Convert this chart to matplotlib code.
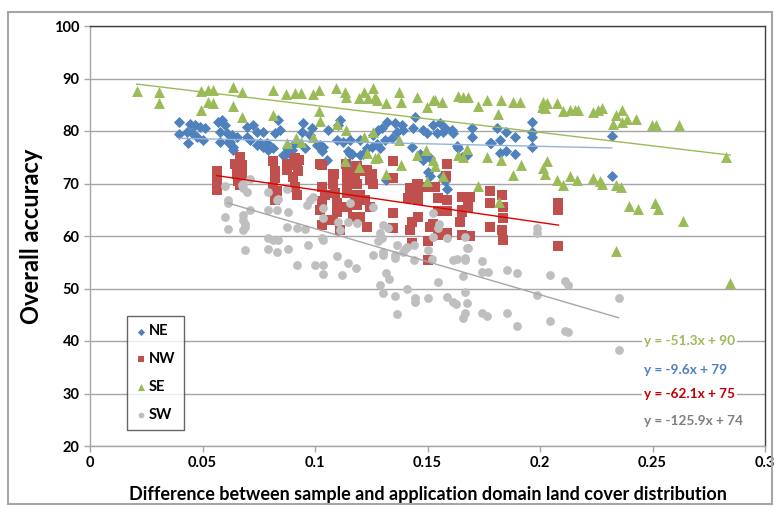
import matplotlib
matplotlib.use("Agg")
from matplotlib import pyplot as plt
from matplotlib.patches import Rectangle
import numpy as np

# NE - blue diamonds
ne_x = [0.0396, 0.0397, 0.0444, 0.0467, 0.0489, 0.0511, 0.043, 0.0452, 0.0474, 0.0504, 0.0437, 0.057, 0.0585, 0.06,
        0.0578, 0.0607, 0.063, 0.0652, 0.0615, 0.0637, 0.0637, 0.0696, 0.0726, 0.0741, 0.077, 0.0696, 0.0711, 0.0741,
        0.077, 0.0793, 0.0837, 0.0844, 0.0822, 0.0785, 0.0815, 0.0867, 0.0896, 0.0911, 0.0948, 0.0941, 0.0985, 0.0978,
        0.0956, 0.1022, 0.103, 0.1052, 0.1059, 0.1111, 0.1104, 0.1099, 0.1156, 0.1148, 0.12, 0.123, 0.1259, 0.1281,
        0.1296, 0.1319, 0.1311, 0.1341, 0.1363, 0.1356, 0.1385, 0.1393, 0.1437, 0.1444, 0.1481, 0.1496, 0.1526, 0.143,
        0.1467, 0.1481, 0.1511, 0.1556, 0.1541, 0.157, 0.1578, 0.1607, 0.1615, 0.1699, 0.1699, 0.163, 0.1637, 0.1652,
        0.1674, 0.1782, 0.1822, 0.1807, 0.1849, 0.1889, 0.1822, 0.1849, 0.1889, 0.1966, 0.1966, 0.1966, 0.1966, 0.2319,
        0.2319, 0.1163, 0.1215, 0.1252, 0.1274, 0.1289, 0.1474, 0.1504, 0.1511, 0.1316, 0.1563, 0.1578, 0.1585, 0.1778,
        0.0578, 0.0622, 0.0756, 0.0778, 0.0874, 0.0889, 0.0859, 0.1007, 0.1037, 0.1126, 0.1156, 0.12, 0.1156, 0.1148]
ne_y = [81.8, 79.4, 81.4, 81.1, 80.8, 80.5, 79.9, 79.6, 78.9, 78.3, 77.7, 81.8, 82.1, 81.1,
        79.9, 79.6, 79.2, 78.9, 78.0, 77.0, 76.4, 80.8, 81.1, 79.9, 79.9, 78.9, 78.3, 77.3,
        77.0, 76.4, 82.1, 80.2, 79.6, 77.7, 76.7, 75.4, 76.4, 77.7, 81.5, 79.9, 80.5, 79.2,
        76.7, 77.3, 76.1, 74.5, 80.2, 82.1, 81.1, 78.3, 78.3, 76.1, 78.3, 76.7, 79.2, 80.2,
        80.5, 81.8, 78.3, 78.6, 79.9, 81.5, 81.1, 80.2, 80.5, 82.7, 80.2, 79.6, 81.1, 77.0,
        75.7, 74.4, 74.9, 81.5, 79.6, 79.9, 80.5, 80.2, 79.6, 80.5, 78.8, 77.1, 76.7, 75.1,
        75.4, 77.8, 78.2, 80.5, 79.9, 78.9, 75.9, 76.1, 75.7, 81.8, 79.9, 78.9, 76.9, 79.1,
        71.4, 75.7, 75.7, 77.0, 77.5, 76.7, 75.1, 72.1, 71.4, 70.7, 71.4, 70.4, 68.9, 77.7,
        78.0, 77.9, 77.7, 76.9, 76.7, 75.7, 75.4, 77.3, 77.0, 78.0, 75.7, 75.4, 73.5, 72.3]

# NW - red squares
nw_x = [0.0563, 0.0563, 0.0563, 0.0644, 0.0667, 0.0674, 0.0652, 0.0674, 0.0659, 0.0667, 0.0815, 0.0822, 0.0822,
        0.0815, 0.083, 0.0822, 0.0874, 0.0874, 0.0911, 0.0919, 0.0926, 0.0911, 0.0919, 0.0904, 0.093, 0.103, 0.103,
        0.1044, 0.103, 0.1022, 0.103, 0.1052, 0.1081, 0.1081, 0.1089, 0.1096, 0.1096, 0.1081, 0.1111, 0.1141, 0.1141,
        0.1141, 0.1141, 0.1178, 0.1178, 0.117, 0.1138, 0.1185, 0.1022, 0.1084, 0.1348, 0.1585, 0.1215, 0.1252, 0.1259,
        0.1185, 0.12, 0.1222, 0.1244, 0.12, 0.123, 0.1185, 0.1348, 0.1348, 0.1348, 0.1422, 0.1452, 0.1459, 0.1415,
        0.1459, 0.1459, 0.143, 0.1422, 0.1533, 0.1548, 0.1585, 0.1511, 0.1548, 0.1652, 0.1689, 0.1681, 0.1652, 0.1644,
        0.1778, 0.183, 0.1837, 0.1778, 0.1837, 0.1778, 0.183, 0.1837, 0.1526, 0.1585, 0.1504, 0.1504, 0.143, 0.1548,
        0.1585, 0.1652, 0.1652, 0.1689, 0.2082, 0.2082, 0.2082, 0.1582, 0.1244, 0.123, 0.1459, 0.1504]
nw_y = [72.3, 70.4, 68.8, 73.8, 75.1, 73.5, 71.9, 71.6, 70.4, 69.7, 74.2, 72.3, 71.0,
        69.4, 68.5, 66.9, 73.8, 72.6, 74.8, 73.5, 72.3, 69.4, 67.8, 71.3, 74.5, 73.5, 69.4,
        67.8, 66.6, 65.0, 62.1, 63.0, 71.9, 70.0, 68.1, 66.2, 64.6, 63.0, 61.1, 71.9, 70.0,
        68.1, 65.6, 71.9, 67.8, 63.7, 73.8, 73.3, 73.8, 71.9, 74.2, 73.8, 72.3, 71.9, 70.0,
        70.0, 67.8, 66.9, 65.6, 63.7, 61.8, 65.9, 71.0, 64.3, 61.5, 69.1, 70.0, 68.4, 67.2,
        66.9, 63.7, 62.7, 61.1, 69.4, 67.2, 66.9, 61.8, 60.2, 67.5, 67.5, 65.6, 64.6, 62.7,
        68.5, 67.8, 65.6, 66.2, 63.4, 61.8, 61.1, 59.2, 62.3, 60.6, 59.1, 55.4, 58.6, 64.7,
        64.7, 60.2, 65.0, 60.0, 66.2, 64.9, 58.1, 71.4, 70.7, 72.6, 70.0, 69.4]

# SE - green triangles
se_x = [0.0207, 0.0308, 0.0308, 0.0493, 0.0526, 0.0548, 0.0637, 0.0674, 0.0526, 0.0548, 0.0493, 0.0637, 0.0674,
        0.0812, 0.0871, 0.0911, 0.0938, 0.099, 0.1019, 0.1093, 0.1133, 0.1138, 0.1219, 0.1197, 0.1259, 0.1267, 0.1277,
        0.1237, 0.1316, 0.1375, 0.1381, 0.1452, 0.1496, 0.1526, 0.0812, 0.1019, 0.1022, 0.1096, 0.1138, 0.0874, 0.0916,
        0.0938, 0.099, 0.1219, 0.1259, 0.1375, 0.1493, 0.1452, 0.1232, 0.1267, 0.1281, 0.1133, 0.1197, 0.1381, 0.1316,
        0.1496, 0.1533, 0.1526, 0.1533, 0.1563, 0.1637, 0.1659, 0.1681, 0.1726, 0.1766, 0.1825, 0.1815, 0.1881, 0.1911,
        0.2015, 0.203, 0.2007, 0.2022, 0.2074, 0.2101, 0.2133, 0.2156, 0.2167, 0.2237, 0.2259, 0.2274, 0.1677, 0.1637,
        0.1659, 0.157, 0.1766, 0.1825, 0.1914, 0.1881, 0.2015, 0.203, 0.2022, 0.2074, 0.2133, 0.2163, 0.2104, 0.2237,
        0.2267, 0.1726, 0.2338, 0.2363, 0.2326, 0.2363, 0.2388, 0.2425, 0.2496, 0.2516, 0.2618, 0.2827, 0.2274, 0.2338,
        0.2359, 0.2395, 0.2434, 0.2511, 0.2524, 0.2634, 0.2336, 0.2845, 0.1818]
se_y = [87.6, 87.4, 85.3, 87.6, 87.9, 87.9, 88.3, 87.5, 85.6, 85.3, 84.0, 84.8, 82.7,
        87.8, 87.0, 87.2, 87.2, 87.0, 87.8, 88.1, 87.5, 86.5, 87.4, 86.2, 88.1, 86.5, 86.0,
        86.2, 85.3, 87.5, 85.6, 86.5, 84.6, 85.9, 83.0, 83.9, 82.0, 81.4, 80.1, 77.7, 78.6,
        78.0, 78.8, 78.9, 79.9, 78.3, 76.4, 75.4, 75.9, 74.8, 75.1, 74.2, 73.2, 73.5, 71.9,
        70.4, 73.3, 74.5, 85.9, 85.6, 86.7, 86.4, 86.4, 84.8, 86.0, 85.9, 83.2, 85.6, 85.6,
        85.6, 85.3, 84.6, 84.3, 85.3, 83.9, 84.0, 84.0, 84.0, 83.7, 84.0, 84.3, 76.5, 75.4,
        75.1, 71.4, 75.0, 74.5, 73.5, 71.6, 72.9, 74.2, 71.9, 70.7, 71.4, 70.7, 69.7, 71.0,
        70.5, 69.5, 83.0, 84.0, 81.4, 81.8, 82.2, 82.2, 81.1, 81.1, 81.1, 75.0, 70.0, 69.7,
        69.3, 65.8, 65.2, 66.3, 65.2, 62.8, 57.1, 51.0, 66.4]

# SW - grey circles
sw_x = [0.06, 0.0615, 0.0615, 0.06, 0.0615, 0.0681, 0.0681, 0.0696, 0.0711, 0.0681, 0.0689, 0.0681, 0.0711, 0.0793,
        0.0793, 0.083, 0.0837, 0.083, 0.0874, 0.0881, 0.0874, 0.0793, 0.0815, 0.0837, 0.0793, 0.083, 0.0881, 0.0689,
        0.0919, 0.0956, 0.097, 0.0963, 0.0978, 0.0993, 0.1037, 0.1037, 0.103, 0.1037, 0.1104, 0.1111, 0.1148, 0.1185,
        0.1148, 0.1096, 0.0919, 0.1, 0.1037, 0.0681, 0.0689, 0.1034, 0.1119, 0.1182, 0.1259, 0.1304, 0.1304, 0.1316,
        0.133, 0.1289, 0.1304, 0.1356, 0.1356, 0.1356, 0.1363, 0.1363, 0.14, 0.1407, 0.1407, 0.144, 0.144, 0.1444,
        0.1444, 0.1504, 0.1504, 0.1519, 0.1548, 0.1588, 0.1615, 0.1627, 0.1615, 0.163, 0.1667, 0.1667, 0.1659, 0.1667,
        0.1674, 0.1667, 0.1659, 0.1741, 0.1763, 0.1741, 0.1741, 0.177, 0.1852, 0.1852, 0.1896, 0.1896, 0.1985, 0.1985,
        0.1985, 0.2044, 0.2044, 0.1674, 0.1526, 0.1553, 0.1523, 0.1289, 0.1304, 0.1326, 0.1296, 0.1281, 0.1393, 0.2112,
        0.2123, 0.2112, 0.2123, 0.2349, 0.2349, 0.0674, 0.1156, 0.1259, 0.1548, 0.1585, 0.1667, 0.1681]
sw_y = [69.5, 66.9, 66.2, 63.7, 61.3, 70.0, 69.1, 68.4, 70.8, 63.0, 61.7, 61.1, 65.0, 68.3,
        65.0, 66.9, 67.0, 65.0, 68.9, 64.5, 61.7, 59.6, 59.2, 59.2, 57.5, 57.0, 57.5, 57.3,
        61.5, 61.3, 58.3, 65.9, 66.9, 67.5, 65.3, 63.4, 59.6, 59.2, 62.7, 61.1, 62.7, 62.4,
        54.8, 56.1, 54.5, 54.5, 54.5, 64.0, 62.3, 52.8, 52.6, 54.0, 56.4, 57.0, 56.4, 52.9,
        51.9, 50.7, 49.2, 56.4, 55.9, 48.6, 45.1, 58.3, 57.5, 58.0, 50.0, 58.3, 55.4, 48.1,
        47.5, 57.3, 48.1, 55.6, 51.3, 48.4, 47.5, 47.0, 55.4, 55.7, 55.4, 55.9, 52.4, 49.4,
        47.2, 45.4, 44.4, 45.3, 44.7, 55.3, 53.2, 53.2, 53.5, 45.3, 52.9, 42.9, 61.5, 60.5,
        48.8, 52.6, 43.9, 57.7, 59.9, 62.3, 64.4, 60.5, 62.1, 61.5, 59.6, 59.0, 57.0, 51.4,
        50.7, 41.9, 41.7, 48.1, 38.2, 69.7, 66.2, 65.6, 61.5, 59.6, 59.9, 57.7]

# trendlines as printed on the chart: slope, intercept, x range
names = ["NE", "NW", "SE", "SW"]
slopes = [-9.6, -62.1, -51.3, -125.9]
intercepts = [79, 75, 90, 74]
line_start = [0.0396, 0.0563, 0.0207, 0.061]
line_end = [0.2319, 0.2082, 0.2845, 0.2349]

marker_col = ["#4F81BD", "#C0504D", "#9BBB59", "#BFBFBF"]
line_col = ["#95B3D7", "#E00000", "#9BBB59", "#A6A6A6"]
eq_col = ["#4F81BD", "#C00000", "#9BBB59", "#7F7F7F"]

plt.rcParams["font.family"] = ["Lato", "DejaVu Sans"]
plt.rcParams["font.weight"] = "bold"

fig = plt.figure(figsize=(7.75, 5.08), dpi=100)
ax = fig.add_axes([90 / 775, 1 - 446 / 508, 675 / 775, 420 / 508])

series = [(ne_x, ne_y, "D", 32), (nw_x, nw_y, "s", 52), (se_x, se_y, "^", 62), (sw_x, sw_y, "o", 40)]
for i, (xs, ys, mk, sz) in enumerate(series):
    ax.scatter(xs, ys, marker=mk, s=sz, color=marker_col[i], linewidths=0, label=names[i], zorder=3)

# trendlines
for i in range(4):
    xx = np.array([line_start[i], line_end[i]])
    ax.plot(xx, slopes[i] * xx + intercepts[i], color=line_col[i], lw=1.0, zorder=4)

# equation labels, order top to bottom: SE, NE, NW, SW
eq_order = [2, 0, 1, 3]
eq_y = [40.0, 34.5, 29.9, 24.8]
for k, i in enumerate(eq_order):
    txt = "y = %.1fx + %d" % (slopes[i], intercepts[i])
    ax.text(0.2463, eq_y[k], txt, color=eq_col[i], fontsize=9.8, fontweight="bold", va="center", ha="left",
            zorder=5, bbox=dict(facecolor="white", edgecolor="none", pad=1.5))

ax.set_xlim(0, 0.3)
ax.set_ylim(20, 100)
ax.set_xticks([0, 0.05, 0.1, 0.15, 0.2, 0.25, 0.3])
ax.set_xticklabels(["0", "0.05", "0.1", "0.15", "0.2", "0.25", "0.3"])
ax.set_yticks(range(20, 101, 10))
ax.yaxis.grid(True, color="#A6A6A6", lw=1.0)
ax.set_axisbelow(True)
ax.tick_params(axis="both", labelsize=10.5, length=4, color="#A6A6A6", width=1)
for lab in ax.get_xticklabels() + ax.get_yticklabels():
    lab.set_fontweight("bold")

ax.spines["left"].set_color("#A6A6A6")
ax.spines["bottom"].set_color("#A6A6A6")
ax.spines["top"].set_color("#404040")
ax.spines["right"].set_color("#404040")
for s in ax.spines.values():
    s.set_linewidth(1.0)

ax.set_xlabel("Difference between sample and application domain land cover distribution",
              fontsize=13, fontweight="bold", labelpad=11)
ax.set_ylabel("Overall accuracy", fontsize=17, fontweight="bold", labelpad=8)

leg = ax.legend(loc="lower left", bbox_to_anchor=(0.055, 0.038), frameon=True, fancybox=False,
                fontsize=10.5, handletextpad=0.15, borderpad=0.55, labelspacing=0.95, markerscale=0.65,
                handlelength=0.8, borderaxespad=0)
leg.get_frame().set_edgecolor("#404040")
leg.get_frame().set_linewidth(1.0)
for t in leg.get_texts():
    t.set_fontweight("bold")

# outer chart border
fig.patches.append(Rectangle((8 / 775, 4 / 508), 764 / 775, 492 / 508, transform=fig.transFigure,
                             fill=False, edgecolor="#A6A6A6", lw=1.5))

plt.savefig("out.png", dpi=100)
